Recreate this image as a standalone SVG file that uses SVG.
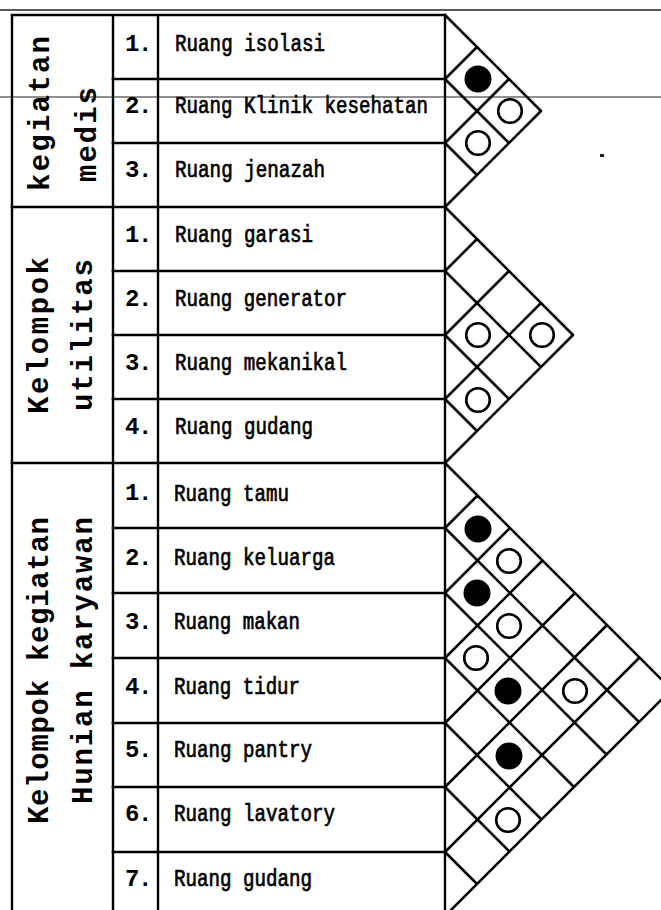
<svg xmlns="http://www.w3.org/2000/svg" width="661" height="910" viewBox="0 0 661 910">
<defs>
<style>
.bg{fill:#fff}
.scan{stroke:#222;stroke-width:1.4;fill:none}
.tl{stroke:#000;stroke-width:2.6;fill:none;stroke-linecap:square}
.vl{stroke:#000;stroke-width:2.4;fill:none}
.ml{stroke:#000;stroke-width:2.6;fill:none;stroke-linecap:round}
.item{font-family:"Liberation Mono","DejaVu Sans Mono",monospace;font-size:23px;font-weight:normal;fill:#000;stroke:#000;stroke-width:0.7}
.num{font-family:"Liberation Mono","DejaVu Sans Mono",monospace;font-size:24px;font-weight:bold;fill:#000}
.grp{font-family:"Liberation Mono","DejaVu Sans Mono",monospace;font-size:29px;font-weight:bold;fill:#000}
.open{fill:#fff;stroke:#000;stroke-width:2.6}
.full{fill:#000}
</style>
</defs>
<rect class="bg" x="0" y="0" width="661" height="910"/>

<!-- scan artefact lines -->
<g id="page-lines">
<line class="scan" x1="0" y1="10" x2="661" y2="10"/>
<line class="scan" x1="0" y1="97" x2="661" y2="97" style="stroke-width:1.1"/>
<rect x="600" y="154" width="4" height="3" fill="#222"/>
</g>

<!-- table frame -->
<g id="table-frame">
<line class="vl" x1="12" y1="15" x2="12" y2="910"/>
<line class="vl" x1="113" y1="15" x2="113" y2="910"/>
<line class="vl" x1="158" y1="15" x2="158" y2="910"/>
<line class="vl" x1="445" y1="15" x2="445" y2="910"/>
<line class="tl" x1="12" y1="15" x2="445" y2="15"/>
<line class="tl" x1="12" y1="207" x2="445" y2="207"/>
<line class="tl" x1="12" y1="463" x2="445" y2="463"/>
</g>

<!-- section 1 -->
<g id="group-medis">
<text class="grp" transform="translate(49,191) rotate(-90)" textLength="155" lengthAdjust="spacing">kegiatan</text>
<text class="grp" transform="translate(96,182) rotate(-90)" textLength="95" lengthAdjust="spacing">medis</text>
</g>
<g id="medis-1"><text class="num" x="125 138" y="51">1.</text><text class="item" x="175" y="51" textLength="150" lengthAdjust="spacingAndGlyphs">Ruang isolasi</text></g>
<g id="medis-2"><line class="tl" x1="113" y1="79" x2="445" y2="79"/><text class="num" x="125 138" y="113">2.</text><text class="item" x="175" y="113" textLength="253" lengthAdjust="spacingAndGlyphs">Ruang Klinik kesehatan</text></g>
<g id="medis-3"><line class="tl" x1="113" y1="143" x2="445" y2="143"/><text class="num" x="125 138" y="177">3.</text><text class="item" x="175" y="177" textLength="150" lengthAdjust="spacingAndGlyphs">Ruang jenazah</text></g>

<!-- section 2 -->
<g id="group-utilitas">
<text class="grp" transform="translate(48,414) rotate(-90)" textLength="157" lengthAdjust="spacing">Kelompok</text>
<text class="grp" transform="translate(92,411) rotate(-90)" textLength="152" lengthAdjust="spacing">utilitas</text>
</g>
<g id="util-1"><text class="num" x="125 138" y="242">1.</text><text class="item" x="175" y="242" textLength="138" lengthAdjust="spacingAndGlyphs">Ruang garasi</text></g>
<g id="util-2"><line class="tl" x1="113" y1="271" x2="445" y2="271"/><text class="num" x="125 138" y="306">2.</text><text class="item" x="175" y="306" textLength="172" lengthAdjust="spacingAndGlyphs">Ruang generator</text></g>
<g id="util-3"><line class="tl" x1="113" y1="335" x2="445" y2="335"/><text class="num" x="125 138" y="370">3.</text><text class="item" x="175" y="370" textLength="172" lengthAdjust="spacingAndGlyphs">Ruang mekanikal</text></g>
<g id="util-4"><line class="tl" x1="113" y1="399" x2="445" y2="399"/><text class="num" x="125 138" y="434">4.</text><text class="item" x="175" y="434" textLength="138" lengthAdjust="spacingAndGlyphs">Ruang gudang</text></g>

<!-- section 3 -->
<g id="group-hunian">
<text class="grp" transform="translate(48,824) rotate(-90)" textLength="307" lengthAdjust="spacing">Kelompok kegiatan</text>
<text class="grp" transform="translate(92,804) rotate(-90)" textLength="287" lengthAdjust="spacing">Hunian karyawan</text>
</g>
<g id="hun-1"><text class="num" x="125 138" y="500">1.</text><text class="item" x="174" y="501" textLength="115" lengthAdjust="spacingAndGlyphs">Ruang tamu</text></g>
<g id="hun-2"><line class="tl" x1="113" y1="528" x2="445" y2="528"/><text class="num" x="125 138" y="565">2.</text><text class="item" x="174" y="565" textLength="161" lengthAdjust="spacingAndGlyphs">Ruang keluarga</text></g>
<g id="hun-3"><line class="tl" x1="113" y1="593" x2="445" y2="593"/><text class="num" x="125 138" y="629">3.</text><text class="item" x="174" y="629" textLength="126" lengthAdjust="spacingAndGlyphs">Ruang makan</text></g>
<g id="hun-4"><line class="tl" x1="113" y1="658" x2="445" y2="658"/><text class="num" x="125 138" y="694">4.</text><text class="item" x="174" y="694" textLength="126" lengthAdjust="spacingAndGlyphs">Ruang tidur</text></g>
<g id="hun-5"><line class="tl" x1="113" y1="723" x2="445" y2="723"/><text class="num" x="125 138" y="757">5.</text><text class="item" x="174" y="757" textLength="138" lengthAdjust="spacingAndGlyphs">Ruang pantry</text></g>
<g id="hun-6"><line class="tl" x1="113" y1="787" x2="445" y2="787"/><text class="num" x="125 138" y="821">6.</text><text class="item" x="174" y="821" textLength="161" lengthAdjust="spacingAndGlyphs">Ruang lavatory</text></g>
<g id="hun-7"><line class="tl" x1="113" y1="852" x2="445" y2="852"/><text class="num" x="125 138" y="886">7.</text><text class="item" x="174" y="886" textLength="138" lengthAdjust="spacingAndGlyphs">Ruang gudang</text></g>

<!-- interaction matrices (connectors) -->
<g id="connectors">
<path class="ml" d="M445 15L541 111M445 79L509 143M445 143L477 175M445 79L477 47M445 143L509 79M445 207L541 111"/>
<path class="ml" d="M445 207L573 335M445 271L541 367M445 335L509 399M445 399L477 431M445 271L477 239M445 335L509 271M445 399L541 303M445 463L573 335"/>
<path class="ml" d="M445 463L671.5 689.5M445 528L639 722M445 593L606.5 754.5M445 658L574 787M445 723L541.5 819.5M445 787L509.5 851.5M445 852L477 884M445 528L477.5 495.5M445 593L510 528M445 658L542.5 560.5M445 723L575 593M445 787L607 625M445 852L639.5 657.5M445 916L671.5 689.5"/>
</g>
<g id="marks">
<circle class="full" cx="478" cy="79" r="13.5"/>
<circle class="open" cx="510" cy="111" r="11.8"/>
<circle class="open" cx="478" cy="143" r="11.8"/>
<circle class="open" cx="478" cy="335" r="11.8"/>
<circle class="open" cx="542" cy="335" r="11.8"/>
<circle class="open" cx="478" cy="400" r="11.8"/>
<circle class="full" cx="478" cy="529" r="13.5"/>
<circle class="open" cx="509" cy="561" r="11.8"/>
<circle class="full" cx="477" cy="593" r="13.5"/>
<circle class="open" cx="509" cy="626" r="11.8"/>
<circle class="open" cx="476" cy="658" r="11.8"/>
<circle class="full" cx="508" cy="691" r="13.5"/>
<circle class="open" cx="575" cy="691" r="11.8"/>
<circle class="full" cx="509" cy="756" r="13.5"/>
<circle class="open" cx="508" cy="820" r="11.8"/>
</g>
</svg>
